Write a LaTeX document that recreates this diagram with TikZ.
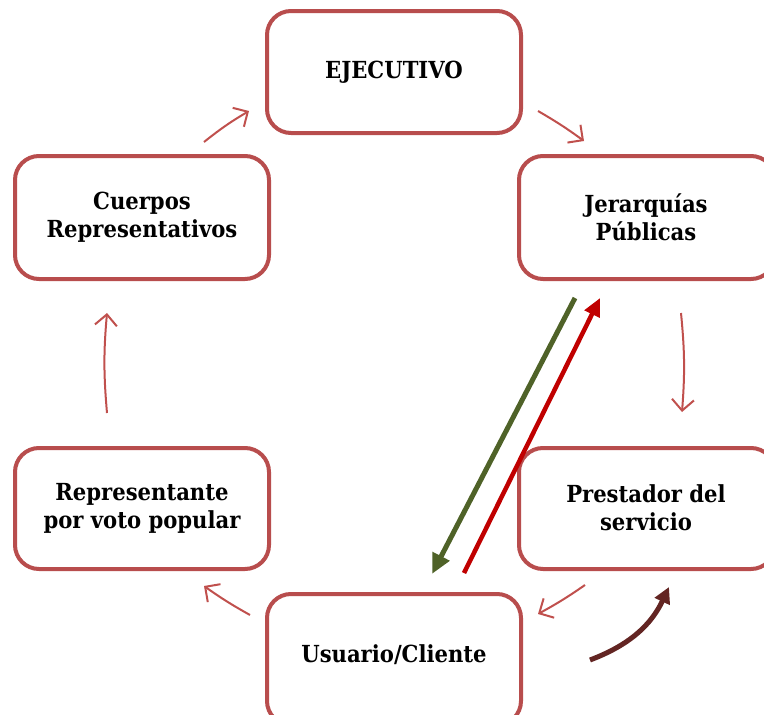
\documentclass[tikz,border=0pt]{standalone}
\usepackage{fontspec}
\setmainfont{DejaVu Serif Condensed}
\usetikzlibrary{arrows.meta}
\definecolor{boxred}{HTML}{B84D4D}
\definecolor{arrred}{HTML}{C0504D}
\definecolor{olive}{HTML}{4F6228}
\definecolor{strongred}{HTML}{C00000}
\definecolor{brownred}{HTML}{632523}
\begin{document}
\begin{tikzpicture}[x=1pt,y=-1pt,
  box/.style={draw=boxred,line width=4pt,rounded corners=24pt,fill=white},
  lbl/.style={font=\fontsize{23.5}{28}\selectfont\bfseries,align=center},
  cyc/.style={draw=arrred,line width=2pt,-{Straight Barb[length=11pt,width=22pt,line width=2pt]}},
  big/.style={line width=5pt,-{Triangle[length=18pt,width=16pt]}}]
\useasboundingbox (0,0) rectangle (764,715);
% boxes
\draw[box] (267,11) rectangle (521,133);
\node[lbl] (ej) at (394,72) {EJECUTIVO};
\draw[box] (15,156) rectangle (269,279);
\node[lbl] (cu) at (142,217) {Cuerpos\\Representativos};
\draw[box] (519,156) rectangle (775,279);
\node[lbl] (je) at (646,217) {Jerarquías\\Públicas};
\draw[box] (15,448) rectangle (269,569);
\node[lbl] (re) at (142,508) {Representante\\por voto popular};
\draw[box] (519,448) rectangle (775,569);
\node[lbl] (pr) at (646,508) {Prestador del\\servicio};
\draw[box] (267,594) rectangle (521,725);
\node[lbl] (us) at (394,655) {Usuario/Cliente};
% cycle arrows
\coordinate (a1s) at (204,142); \coordinate (a1e) at (249,111);
\draw[cyc] (a1s) to[bend left=4] (a1e);
\coordinate (a2s) at (538,111); \coordinate (a2e) at (584,141);
\draw[cyc] (a2s) to[bend left=3] (a2e);
\coordinate (a3s) at (681,313); \coordinate (a3e) at (682,412);
\draw[cyc] (a3s) to[bend left=5] (a3e);
\coordinate (a4s) at (585,585); \coordinate (a4e) at (538,614);
\draw[cyc] (a4s) to[bend left=3] (a4e);
\coordinate (a5s) at (250,615); \coordinate (a5e) at (204,586);
\draw[cyc] (a5s) to[bend left=3] (a5e);
\coordinate (a6s) at (107,413); \coordinate (a6e) at (107,313);
\draw[cyc] (a6s) to[bend left=5] (a6e);
% big arrows
\coordinate (gs) at (575,298); \coordinate (ge) at (432,574);
\draw[big,draw=olive,-{Triangle[length=20pt,width=18pt]}] (gs) -- (ge);
\coordinate (rs) at (464,573); \coordinate (re2) at (600,298);
\draw[big,draw=strongred,line width=4.5pt] (rs) -- (re2);
\coordinate (bs) at (590,660); \coordinate (be) at (669,587);
\draw[big,draw=brownred,-{Triangle[length=16pt,width=16pt]}] (bs) to[bend right=22] (be);
\end{tikzpicture}
\end{document}
